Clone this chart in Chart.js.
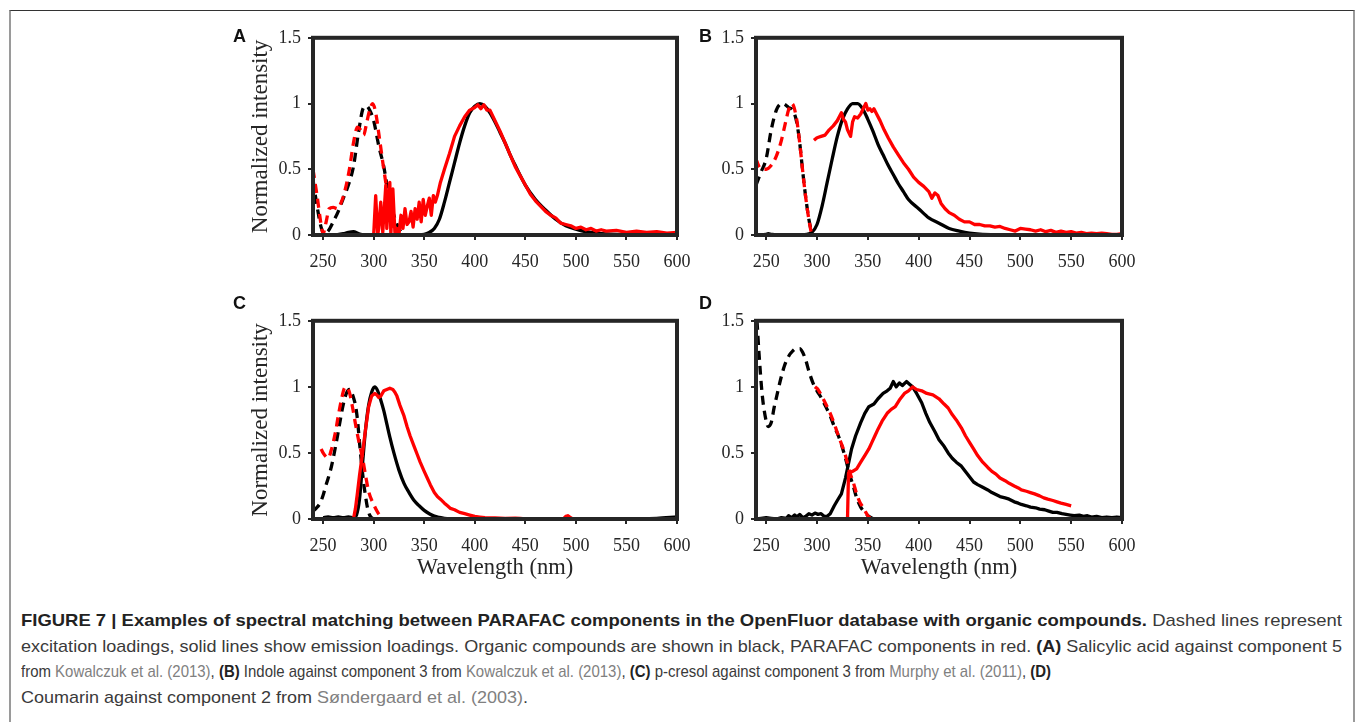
<!DOCTYPE html>
<html>
<head>
<meta charset="utf-8">
<script src="https://cdn.jsdelivr.net/npm/chart.js@4.4.1/dist/chart.umd.min.js"></script>
<style>
  html, body { margin:0; padding:0; background:#fff; width:1360px; height:722px; overflow:hidden; }
  #frame { position:absolute; left:9px; top:10px; width:1346px; height:730px; border-top:1.5px solid #333; border-left:2px solid #9a9a9a; border-right:2px solid #9a9a9a; box-sizing:border-box; }
  canvas { position:absolute; }
  .plab { position:absolute; font-family:"Liberation Sans", Arial, sans-serif; font-weight:bold; font-size:18px; color:#111; line-height:18px; }
  #cap { position:absolute; left:21px; top:608px; font-family:"Liberation Sans", Arial, sans-serif; font-size:17px; color:#3a3a3a; }
  #cap .ln { position:absolute; left:0; white-space:nowrap; transform-origin:0 50%; line-height:20px; }
  #cap b { color:#222; }
  #cap .ref { color:#808080; }
</style>
</head>
<body>
<div id="frame"></div>
<canvas id="cA"></canvas>
<canvas id="cB"></canvas>
<canvas id="cC"></canvas>
<canvas id="cD"></canvas>
<div class="plab" style="left:233px;top:27px;">A</div>
<div class="plab" style="left:699px;top:27px;">B</div>
<div class="plab" style="left:233px;top:294px;">C</div>
<div class="plab" style="left:699px;top:294px;">D</div>
<div id="cap">
  <div class="ln" id="l1" style="top:3px"><b>FIGURE 7 | Examples of spectral matching between PARAFAC components in the OpenFluor database with organic compounds.</b> Dashed lines represent</div>
  <div class="ln" id="l2" style="top:28.5px">excitation loadings, solid lines show emission loadings. Organic compounds are shown in black, PARAFAC components in red. <b>(A)</b> Salicylic acid against component 5</div>
  <div class="ln" id="l3" style="top:54px">from <span class="ref">Kowalczuk et al. (2013)</span>, <b>(B)</b> Indole against component 3 from <span class="ref">Kowalczuk et al. (2013)</span>, <b>(C)</b> p-cresol against component 3 from <span class="ref">Murphy et al. (2011)</span>, <b>(D)</b></div>
  <div class="ln" id="l4" style="top:79.5px">Coumarin against component 2 from <span class="ref">Søndergaard et al. (2003)</span>.</div>
</div>
<script>
// ---------- axis ticks ----------
const xTicks = [250, 300, 350, 400, 450, 500, 550, 600];
const yTicks = [0, 0.5, 1, 1.5];
const yTickLabels = ['0', '0.5', '1', '1.5'];

// ---------- Panel A : salicylic acid vs component 5 ----------
const A_orgEx_wl = [240,244,248,251,255,260,265,270,275,280,285,290,293,296,300,305,310,315,320,325,329,335];
const A_orgEx_v  = [0.42,0.22,0.06,0.01,0.03,0.1,0.18,0.28,0.38,0.52,0.78,0.97,0.98,0.95,0.87,0.68,0.52,0.3,0.15,0.05,0.01,0];
const A_parEx_wl = [240,244,248,250,253,256,260,264,268,272,276,280,284,287,290,293,296,299,302,306,310,314,318,322,330,350,390];
const A_parEx_v  = [0.5,0.3,0.08,0.01,0.1,0.2,0.21,0.2,0.25,0.35,0.5,0.7,0.82,0.8,0.76,0.85,0.95,1.0,0.93,0.72,0.5,0.3,0.12,0.01,0,0,0];
const A_orgEm_wl = [250,260,270,275,280,285,290,300,320,340,350,355,360,365,370,375,380,385,390,395,400,405,410,415,420,425,430,435,440,450,460,470,480,490,500,510,520,530,540,560,600];
const A_orgEm_v  = [0,0,0.01,0.02,0.025,0.01,0,0,0,0,0.005,0.02,0.05,0.12,0.25,0.4,0.55,0.7,0.83,0.93,0.98,1.0,0.98,0.93,0.86,0.78,0.7,0.61,0.53,0.38,0.27,0.19,0.12,0.07,0.045,0.025,0.015,0.008,0.004,0,0];
const A_parEm_wl = [300,302,304,305,307,309,312,313,316,317,319,321,323,325,327,329,331,333,335,337,339,341,343,345,347,349,351,353,355,357,359,361,363,366,370,375,380,385,390,395,400,403,406,409,412,415,420,425,430,435,440,445,450,455,460,465,470,475,480,485,490,495,500,505,510,515,520,525,530,540,550,560,570,580,590,600];
const A_parEm_v  = [0,0.3,0,0.05,0.25,0.02,0.38,0.05,0.4,0,0.35,0.02,0.05,0,0.15,0.05,0.2,0.08,0.1,0.18,0.06,0.2,0.12,0.25,0.1,0.27,0.15,0.22,0.28,0.15,0.3,0.25,0.3,0.4,0.5,0.62,0.75,0.83,0.9,0.95,0.97,0.99,0.96,0.99,0.95,0.95,0.87,0.79,0.7,0.61,0.52,0.45,0.38,0.31,0.26,0.22,0.18,0.15,0.13,0.09,0.08,0.07,0.05,0.06,0.04,0.05,0.03,0.04,0.03,0.035,0.02,0.03,0.02,0.025,0.015,0.02];

// ---------- Panel B : indole vs component 3 ----------
const B_orgEx_wl = [240,245,250,255,260,263,266,269,272,276,280,283,286,289,292,295];
const B_orgEx_v  = [0.38,0.48,0.58,0.8,0.95,0.99,1.0,0.99,0.97,0.95,0.86,0.7,0.48,0.28,0.12,0.01];
const B_parEx_wl = [240,243,246,250,255,260,265,268,272,275,277,280,283,286,289,292,295,300,310,330];
const B_parEx_v  = [0.58,0.52,0.5,0.5,0.53,0.6,0.72,0.82,0.95,1.0,0.98,0.88,0.7,0.48,0.28,0.12,0.01,0,0,0];
const B_orgEm_wl = [240,250,252,255,260,270,280,290,295,300,305,310,315,320,325,330,335,340,345,350,355,360,365,370,375,380,385,390,400,410,420,430,440,450,460,480,500,550,600];
const B_orgEm_v  = [0,0.005,0.01,0.005,0,0,0,0.005,0.02,0.08,0.22,0.4,0.58,0.75,0.88,0.96,1.0,1.0,0.96,0.88,0.79,0.69,0.61,0.53,0.46,0.39,0.33,0.27,0.2,0.13,0.09,0.05,0.03,0.015,0.007,0.002,0,0,0];
const B_parEm_wl = [297,300,304,308,312,316,320,324,326,328,330,333,335,337,340,343,346,348,350,352,354,356,358,362,366,370,375,380,385,390,395,400,405,410,413,416,419,422,426,430,435,440,445,450,455,460,465,470,475,480,485,490,495,500,505,510,515,520,525,530,535,540,545,550,555,560,565,570,575,580,585,590,595,600];
const B_parEm_v  = [0.72,0.74,0.75,0.76,0.8,0.83,0.87,0.93,0.88,0.86,0.8,0.75,0.86,0.9,0.89,0.92,0.97,1.0,0.95,0.96,0.94,0.96,0.93,0.87,0.8,0.74,0.67,0.61,0.55,0.5,0.44,0.4,0.37,0.33,0.28,0.32,0.3,0.24,0.2,0.17,0.15,0.12,0.1,0.1,0.08,0.08,0.07,0.07,0.06,0.065,0.05,0.04,0.03,0.05,0.045,0.04,0.03,0.04,0.025,0.035,0.02,0.03,0.02,0.025,0.015,0.02,0.01,0.015,0.01,0.015,0.01,0.005,0.005,0.01];

// ---------- Panel C : p-cresol vs component 3 ----------
const C_orgEx_wl = [240,243,247,250,253,257,260,264,267,270,273,276,278,280,282,284,286,288,290,292,294,296,298,300];
const C_orgEx_v  = [0.06,0.08,0.12,0.18,0.26,0.36,0.46,0.62,0.75,0.87,0.95,0.98,0.96,0.92,0.86,0.75,0.58,0.42,0.28,0.17,0.08,0.03,0.01,0];
const C_parEx_wl = [248,250,253,255,258,262,265,268,271,273,276,279,282,285,289,292,295,300,304,309];
const C_parEx_v  = [0.53,0.5,0.47,0.46,0.52,0.65,0.78,0.9,0.99,1.0,0.96,0.85,0.72,0.6,0.46,0.33,0.21,0.11,0.05,0];
const C_orgEm_wl = [250,255,260,265,270,275,280,283,286,289,292,295,298,301,304,307,310,313,316,320,325,330,335,340,345,350,355,360,365,370,380,400,450,500,550,580,600];
const C_orgEm_v  = [0.01,0.015,0.01,0.015,0.01,0.015,0.01,0.03,0.15,0.42,0.68,0.86,0.96,1.0,0.97,0.9,0.82,0.72,0.62,0.5,0.37,0.27,0.2,0.14,0.1,0.065,0.04,0.022,0.012,0.005,0,0,0,0,0,0.005,0.015];
const C_parEm_wl = [280,282,284,286,289,292,295,298,301,303,305,307,310,313,316,319,321,323,326,330,333,336,340,343,346,350,353,356,360,363,366,370,373,376,380,385,390,395,400,405,410,420,430,440,445,450,460,480,488,490,492,494,496,500];
const C_parEm_v  = [0,0.08,0.2,0.33,0.5,0.68,0.85,0.93,0.95,0.94,0.92,0.93,0.97,0.98,0.99,0.98,0.96,0.93,0.86,0.78,0.7,0.63,0.55,0.49,0.43,0.36,0.31,0.26,0.2,0.17,0.15,0.12,0.1,0.08,0.07,0.05,0.04,0.03,0.02,0.015,0.01,0.008,0.005,0.007,0.004,0,0,0,0.005,0.02,0.025,0.015,0.005,0];

// ---------- Panel D : coumarin vs component 2 ----------
const D_orgEx_wl = [241,243,246,249,252,255,258,261,264,268,272,276,280,283,286,289,292,296,300,304,308,313,317,321,325,328,332,336,339,343,347,351,356];
const D_orgEx_v  = [1.5,1.25,0.95,0.78,0.7,0.73,0.85,0.95,1.05,1.16,1.23,1.27,1.29,1.29,1.26,1.2,1.12,1.03,0.97,0.92,0.86,0.78,0.7,0.63,0.54,0.46,0.34,0.24,0.16,0.09,0.05,0.02,0];
const D_parEx_wl = [298,301,304,308,313,317,321,325,328,332,336,339,342,345,348,351,355,360];
const D_parEx_v  = [1.0,0.98,0.94,0.88,0.8,0.72,0.63,0.55,0.48,0.36,0.27,0.19,0.13,0.09,0.05,0.015,0.005,0];
const D_orgEm_wl = [240,245,250,255,260,265,270,272,275,278,280,283,286,289,292,295,298,301,304,307,310,313,317,320,324,328,331,334,338,343,347,351,356,360,365,369,372,375,378,381,384,388,391,394,398,403,407,411,416,420,425,429,433,437,442,446,450,454,458,463,468,472,476,480,485,489,494,498,501,506,510,515,519,524,528,532,536,541,545,549,553,558,562,566,570,575,580,585,590,595,600];
const D_orgEm_v  = [0,0.005,0.01,0.005,0,0.01,0.005,0.025,0.01,0.03,0.015,0.035,0.01,0.02,0.04,0.03,0.045,0.035,0.04,0.02,0.02,0.04,0.1,0.14,0.19,0.31,0.42,0.53,0.63,0.73,0.8,0.85,0.87,0.91,0.95,0.97,0.99,1.04,1.0,1.03,1.01,1.04,1.02,1.0,0.95,0.88,0.8,0.73,0.66,0.6,0.55,0.5,0.46,0.43,0.4,0.36,0.32,0.28,0.26,0.24,0.22,0.2,0.185,0.17,0.16,0.15,0.13,0.12,0.11,0.1,0.09,0.085,0.075,0.07,0.06,0.05,0.05,0.04,0.035,0.03,0.025,0.03,0.02,0.025,0.015,0.02,0.01,0.015,0.01,0.015,0.01];
const D_parEm_wl = [330,331,335,339,343,347,351,354,357,360,364,369,373,377,381,386,390,394,398,403,408,414,420,425,429,433,437,442,446,450,454,458,463,468,472,476,480,485,489,494,498,501,506,510,514,519,523,527,532,536,540,545,550];
const D_parEm_v  = [0,0.35,0.36,0.38,0.43,0.48,0.53,0.58,0.63,0.68,0.74,0.8,0.83,0.85,0.9,0.95,0.97,1.0,0.98,0.97,0.95,0.94,0.91,0.87,0.84,0.79,0.75,0.69,0.63,0.58,0.53,0.48,0.43,0.39,0.36,0.34,0.31,0.29,0.27,0.25,0.235,0.22,0.21,0.2,0.19,0.175,0.16,0.15,0.14,0.13,0.12,0.11,0.1];

// ---------- helpers ----------
const AX = '#262626';
const SERIF = '"Liberation Serif","Times New Roman",serif';
function pts(wl, v) { return wl.map((x, i) => ({ x: x, y: v[i] })); }
function ds(wl, v, color, dashed, smooth, order) {
  return {
    data: pts(wl, v), borderColor: color, borderWidth: 3.3,
    borderDash: dashed ? [9, 6] : [], pointRadius: 0, fill: false,
    tension: smooth ? 0.35 : 0, cubicInterpolationMode: smooth ? 'monotone' : 'default',
    order: order, borderCapStyle: 'butt', borderJoinStyle: 'round'
  };
}
const framePlugin = {
  id: 'frameBox',
  afterDatasetsDraw(chart) {
    const a = chart.chartArea, ctx = chart.ctx;
    ctx.save(); ctx.strokeStyle = AX; ctx.lineWidth = 4;
    ctx.strokeRect(a.left, a.top, a.right - a.left, a.bottom - a.top);
    ctx.restore();
  }
};

function makePanel(id, left, top, width, height, yWidth, xHeight, showY, showX, sets) {
  const cv = document.getElementById(id);
  cv.width = width; cv.height = height;
  cv.style.left = left + 'px'; cv.style.top = top + 'px';
  cv.style.width = width + 'px'; cv.style.height = height + 'px';
  new Chart(cv.getContext('2d'), {
    type: 'line',
    data: { datasets: sets },
    options: {
      responsive: false, animation: false, devicePixelRatio: 1, events: [],
      layout: { padding: { top: 12, right: 32, left: 0, bottom: 0 } },
      plugins: { legend: { display: false }, tooltip: { enabled: false } },
      scales: {
        x: {
          type: 'linear', min: 240, max: 600,
          afterBuildTicks: s => { s.ticks = xTicks.map(v => ({ value: v })); },
          afterFit: s => { s.height = xHeight; },
          ticks: { font: { family: SERIF, size: 18 }, color: AX, padding: 11, maxRotation: 0, autoSkip: false, callback: v => String(v) },
          grid: { display: true, drawOnChartArea: false, drawTicks: true, tickLength: 5, color: AX, lineWidth: 2 },
          border: { display: false },
          title: { display: showX, text: 'Wavelength (nm)', font: { family: SERIF, size: 22.5 }, color: AX, padding: { top: 0, bottom: 4 } }
        },
        y: {
          type: 'linear', min: 0, max: 1.5,
          afterBuildTicks: s => { s.ticks = yTicks.map(v => ({ value: v })); },
          afterFit: s => { s.width = yWidth; },
          ticks: { font: { family: SERIF, size: 18 }, color: AX, padding: 7, autoSkip: false, callback: v => yTickLabels[yTicks.indexOf(v)] },
          grid: { display: true, drawOnChartArea: false, drawTicks: true, tickLength: 5, color: AX, lineWidth: 2 },
          border: { display: false },
          title: { display: showY, text: 'Normalized intensity', font: { family: SERIF, size: 23 }, color: AX, padding: { top: 4, bottom: 4 } }
        }
      }
    },
    plugins: [framePlugin]
  });
}

const RED = '#ff0000', BLK = '#000000';
function sets(oEx, pEx, oEm, pEm, smoothPEm, smoothOEm) {
  return [
    ds(pEm[0], pEm[1], RED, false, smoothPEm, 1),
    ds(pEx[0], pEx[1], RED, true, true, 2),
    ds(oEm[0], oEm[1], BLK, false, smoothOEm, 3),
    ds(oEx[0], oEx[1], BLK, true, true, 4)
  ];
}

// chart area: A/C x 313..677, B/D x 756..1122 ; right padding 32
makePanel('cA', 243, 20, 466, 260, 70, 45, true, false,
  sets([A_orgEx_wl, A_orgEx_v], [A_parEx_wl, A_parEx_v], [A_orgEm_wl, A_orgEm_v], [A_parEm_wl, A_parEm_v], false, true));
makePanel('cB', 700, 20, 454, 260, 56, 45, false, false,
  sets([B_orgEx_wl, B_orgEx_v], [B_parEx_wl, B_parEx_v], [B_orgEm_wl, B_orgEm_v], [B_parEm_wl, B_parEm_v], false, true));
makePanel('cC', 243, 303, 466, 283, 70, 67, true, true,
  sets([C_orgEx_wl, C_orgEx_v], [C_parEx_wl, C_parEx_v], [C_orgEm_wl, C_orgEm_v], [C_parEm_wl, C_parEm_v], false, true));
makePanel('cD', 700, 303, 454, 283, 56, 67, false, true,
  sets([D_orgEx_wl, D_orgEx_v], [D_parEx_wl, D_parEx_v], [D_orgEm_wl, D_orgEm_v], [D_parEm_wl, D_parEm_v], false, false));

// ---------- caption: each line condensed horizontally to the width it has in the figure ----------
(function () {
  const targets = { l1: 1321, l2: 1321, l3: 1030, l4: 507 };
  Object.keys(targets).forEach(id => {
    const l = document.getElementById(id);
    const w = l.getBoundingClientRect().width;
    l.style.transform = 'scaleX(' + (targets[id] / w) + ')';
  });
})();
</script>
</body>
</html>
